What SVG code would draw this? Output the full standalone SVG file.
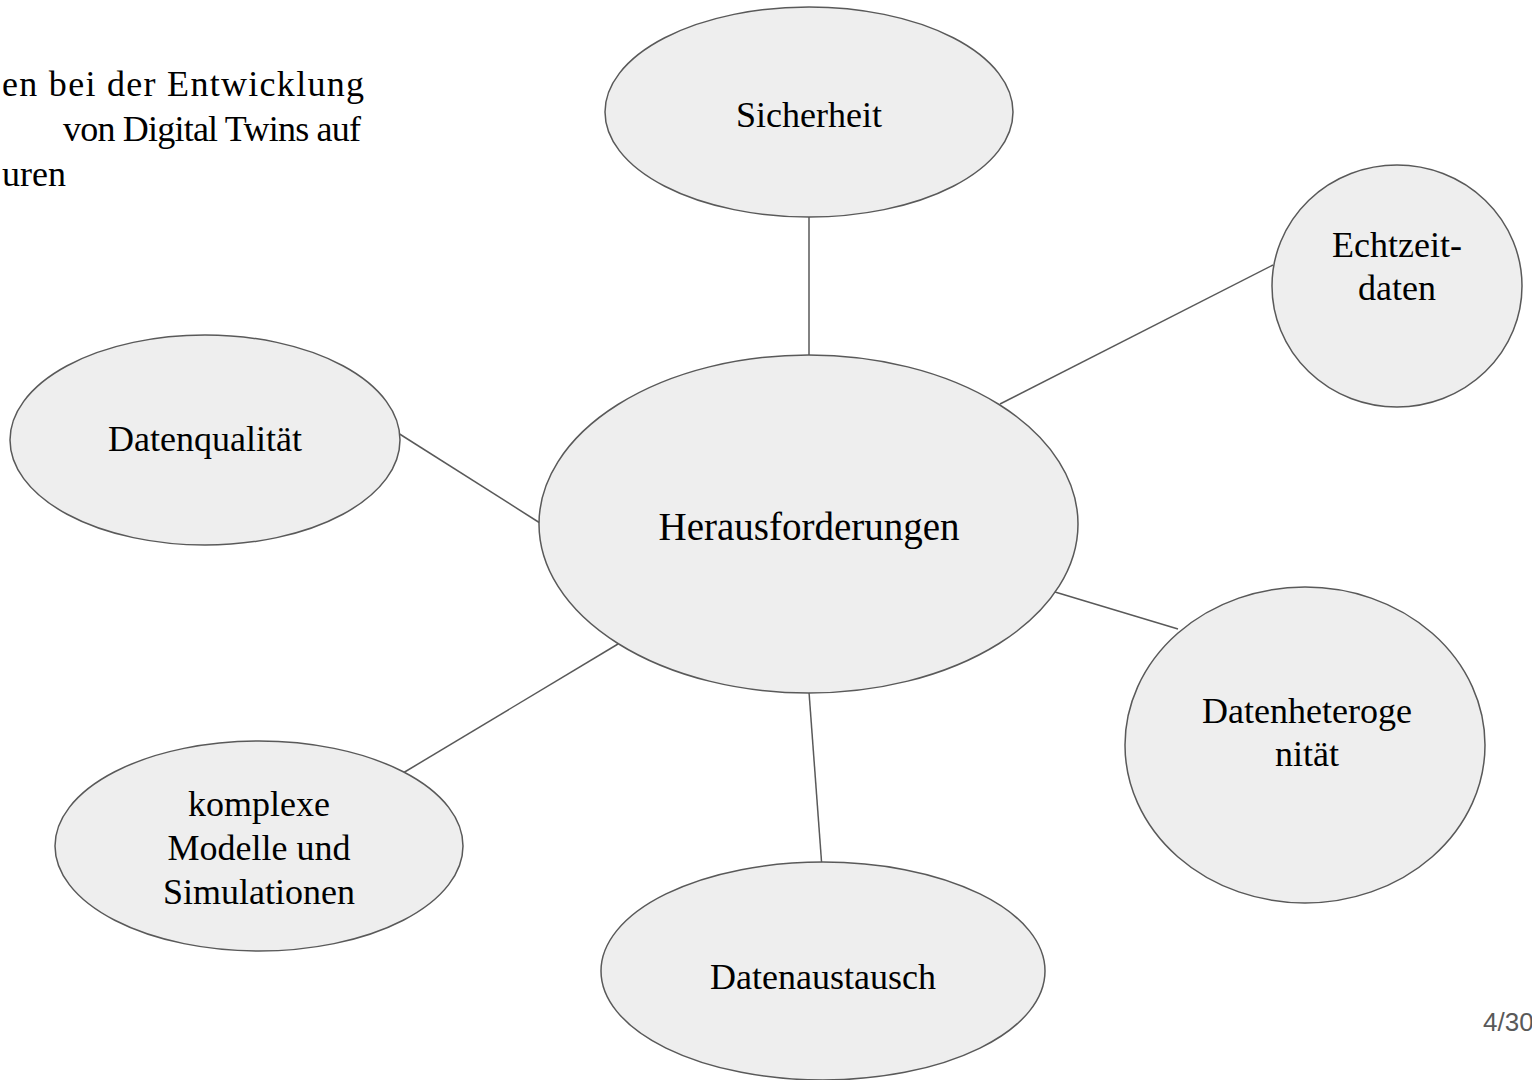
<svg xmlns="http://www.w3.org/2000/svg" width="1532" height="1080" viewBox="0 0 1532 1080">
  <style>
    .node { fill: #eeeeee; stroke: #595959; stroke-width: 1.5; }
    .edge { stroke: #595959; stroke-width: 1.5; fill: none; }
    .label { font-family: "Liberation Serif", "DejaVu Serif", serif; font-size: 36px; fill: #000000; text-anchor: middle; }
    .title { font-family: "Liberation Serif", "DejaVu Serif", serif; font-size: 36px; fill: #000000; }
    .page { font-family: "Liberation Sans", Arial, sans-serif; font-size: 26px; fill: #595959; }
  </style>
  <rect width="1532" height="1080" fill="#ffffff"/>

  <!-- heading, running off the left edge -->
  <g id="heading">
    <text class="title" x="2" y="96" textLength="362" lengthAdjust="spacing">en bei der Entwicklung</text>
    <text class="title" x="63" y="141" textLength="298" lengthAdjust="spacing">von Digital Twins auf</text>
    <text class="title" x="2" y="186">uren</text>
  </g>

  <!-- spokes from the central node -->
  <g id="connectors">
    <line class="edge" x1="809" y1="217" x2="809" y2="356"/>
    <line class="edge" x1="1000" y1="404" x2="1273" y2="265"/>
    <line class="edge" x1="398" y1="433" x2="540" y2="523"/>
    <line class="edge" x1="1055" y1="592" x2="1178" y2="629"/>
    <line class="edge" x1="618" y1="644" x2="403" y2="773"/>
    <line class="edge" x1="809" y1="692" x2="822" y2="868"/>
  </g>

  <g id="sicherheit">
    <ellipse class="node" cx="809" cy="112" rx="204" ry="105"/>
    <text class="label" x="809" y="127">Sicherheit</text>
  </g>

  <g id="echtzeitdaten">
    <ellipse class="node" cx="1397" cy="286" rx="125" ry="121"/>
    <text class="label" x="1397" y="257">Echtzeit-</text>
    <text class="label" x="1397" y="300">daten</text>
  </g>

  <g id="datenqualitaet">
    <ellipse class="node" cx="205" cy="440" rx="195" ry="105"/>
    <text class="label" x="205" y="451">Datenqualität</text>
  </g>

  <g id="herausforderungen">
    <ellipse class="node" cx="808.5" cy="524" rx="269.5" ry="169"/>
    <text class="label" x="809" y="540" style="font-size:39px">Herausforderungen</text>
  </g>

  <g id="datenheterogenitaet">
    <ellipse class="node" cx="1305" cy="745" rx="180" ry="158"/>
    <text class="label" x="1307" y="723">Datenheteroge</text>
    <text class="label" x="1307" y="766">nität</text>
  </g>

  <g id="modelle">
    <ellipse class="node" cx="259" cy="846" rx="204" ry="105"/>
    <text class="label" x="259" y="816">komplexe</text>
    <text class="label" x="259" y="860">Modelle und</text>
    <text class="label" x="259" y="904">Simulationen</text>
  </g>

  <g id="datenaustausch">
    <ellipse class="node" cx="823" cy="971" rx="222" ry="109"/>
    <text class="label" x="823" y="989">Datenaustausch</text>
  </g>

  <text class="page" x="1483" y="1031">4/30</text>
</svg>
